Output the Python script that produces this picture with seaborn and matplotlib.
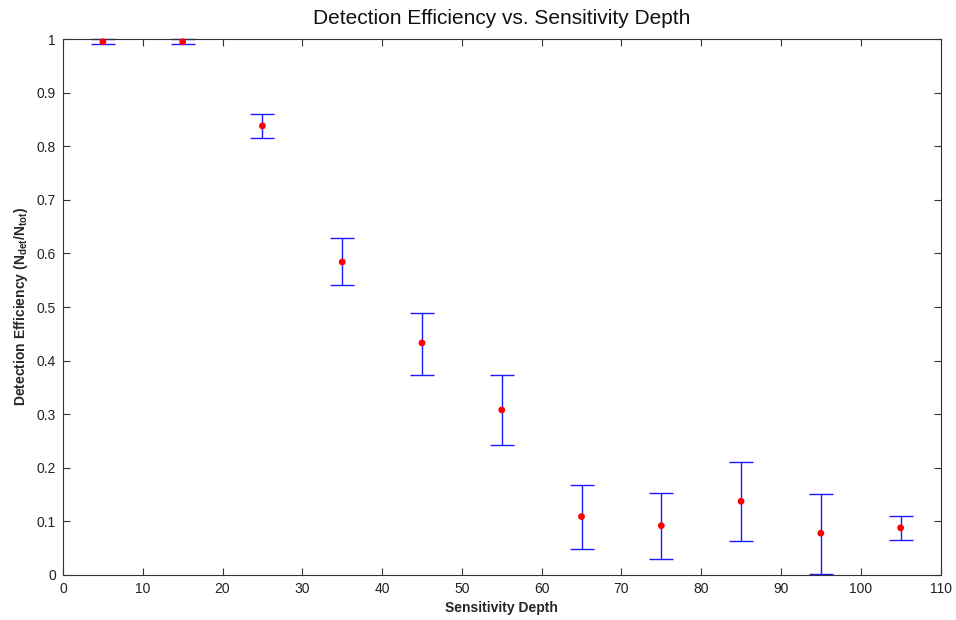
import matplotlib
matplotlib.use("Agg")
import matplotlib.pyplot as plt
import seaborn as sns
import numpy as np
import pandas as pd

depth = [5, 15, 25, 35, 45, 55, 65, 75, 85, 95, 105]
efficiency = [0.995, 0.995, 0.838, 0.584, 0.433, 0.308, 0.109, 0.092, 0.1375, 0.078, 0.088]
err_upper = [1.0, 1.0, 0.861, 0.629, 0.489, 0.373, 0.167, 0.153, 0.211, 0.151, 0.110]
err_lower = [0.99, 0.99, 0.815, 0.541, 0.373, 0.243, 0.0485, 0.030, 0.064, 0.0025, 0.066]

x_ticks = [0, 10, 20, 30, 40, 50, 60, 70, 80, 90, 100, 110]
y_ticks = [0, 0.1, 0.2, 0.3, 0.4, 0.5, 0.6, 0.7, 0.8, 0.9, 1]
y_tick_labels = ["0", "0.1", "0.2", "0.3", "0.4", "0.5", "0.6", "0.7", "0.8", "0.9", "1"]

sns.set_theme(style="white")
plt.rcParams['font.family'] = ['Liberation Sans', 'DejaVu Sans']
plt.rcParams['mathtext.fontset'] = 'custom'
plt.rcParams['mathtext.rm'] = 'Liberation Sans'
plt.rcParams['mathtext.bf'] = 'Liberation Sans:bold'

df = pd.DataFrame({"depth": depth, "eff": efficiency,
                   "lo": err_lower, "hi": err_upper})

fig = plt.figure(figsize=(9.56, 6.2), dpi=100)
ax = fig.add_axes([0.0659, 0.0726, 0.9179, 0.8644])

yerr = np.array([df["eff"] - df["lo"], df["hi"] - df["eff"]])
eb = ax.errorbar(df["depth"], df["eff"], yerr=yerr, fmt="none", ecolor="#1a1aff",
                 elinewidth=1.0, capsize=8.5, capthick=1.0, zorder=2)
for art in eb.lines[1] + eb.lines[2]:
    art.set_clip_on(False)
sns.scatterplot(data=df, x="depth", y="eff", ax=ax, color="#ff0000", s=24,
                edgecolor="none", zorder=3, clip_on=False)

ax.set_xlim(0, 110)
ax.set_ylim(0, 1)
ax.set_xticks(x_ticks)
ax.set_xticklabels([str(t) for t in x_ticks])
ax.set_yticks(y_ticks)
ax.set_yticklabels(y_tick_labels)

for s in ax.spines.values():
    s.set_color("#333333")
    s.set_linewidth(0.8)
ax.tick_params(direction="in", length=5, width=0.8, color="#333333",
               labelsize=10, labelcolor="#222222", top=True, right=True,
               bottom=True, left=True)
ax.tick_params(axis="x", pad=5)
ax.tick_params(axis="y", pad=5)

ax.set_title("Detection Efficiency vs. Sensitivity Depth", fontsize=15, pad=11,
             color="#111111")
ax.set_xlabel("Sensitivity Depth", fontsize=10, fontweight="bold", labelpad=4)
ax.set_ylabel(r"Detection Efficiency (N$_{\mathbf{det}}$/N$_{\mathbf{tot}}$)",
              fontsize=10, fontweight="bold", labelpad=5)

fig.savefig("out.png", dpi=100, facecolor="white")
